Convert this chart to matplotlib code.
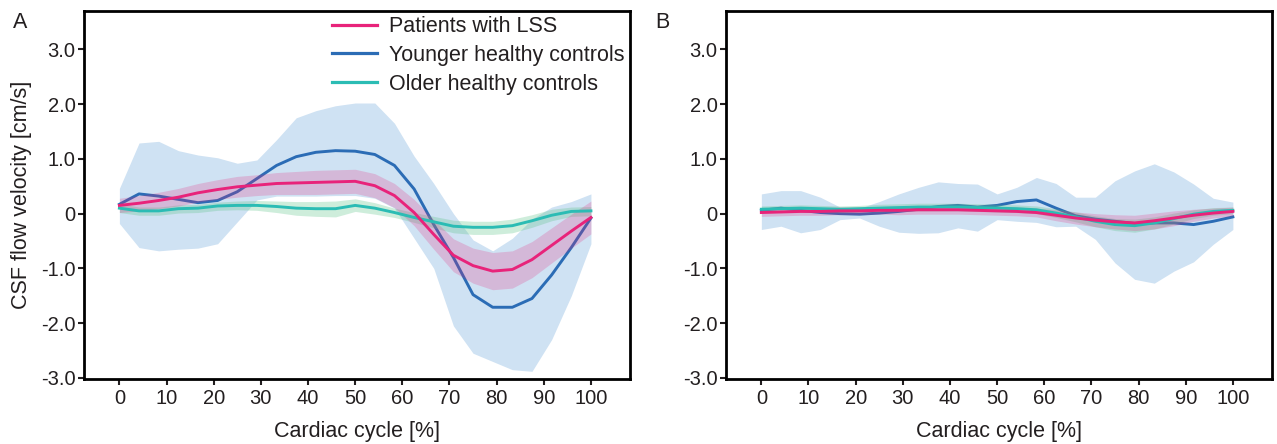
"""CSF flow velocity over the cardiac cycle, panels A and B."""

import matplotlib

matplotlib.use("Agg")
import matplotlib.pyplot as plt
from matplotlib.lines import Line2D

plt.rcParams["font.family"] = ["Liberation Sans", "DejaVu Sans"]

TEXT = "#231f20"
PINK = "#e8237a"
BLUE = "#2b6cb5"
TEAL = "#2bbcb4"
BLUE_FILL = "#cfe2f3"
GREEN_FILL = "#5fc48a"

# cardiac cycle sampled in 25 steps
cycle = [i * 100 / 24 for i in range(25)]

# panel A
lss_a = [0.15, 0.19, 0.24, 0.30, 0.38, 0.44, 0.49, 0.52, 0.55, 0.56, 0.57, 0.58, 0.59,
         0.51, 0.33, 0.02, -0.38, -0.76, -0.95, -1.05, -1.02, -0.84, -0.58, -0.32, -0.07]
lss_a_hi = [0.28, 0.33, 0.39, 0.46, 0.55, 0.62, 0.68, 0.71, 0.75, 0.77, 0.79, 0.80, 0.81,
            0.73, 0.55, 0.26, -0.11, -0.46, -0.63, -0.71, -0.68, -0.51, -0.26, -0.01, 0.23]
lss_a_lo = [0.02, 0.05, 0.09, 0.14, 0.21, 0.26, 0.30, 0.33, 0.35, 0.35, 0.35, 0.36, 0.37,
            0.29, 0.11, -0.22, -0.65, -1.06, -1.27, -1.39, -1.36, -1.17, -0.90, -0.63, -0.37]

young_a = [0.17, 0.36, 0.32, 0.26, 0.20, 0.24, 0.40, 0.64, 0.88, 1.04, 1.12, 1.15, 1.14,
           1.08, 0.88, 0.45, -0.20, -0.80, -1.48, -1.71, -1.71, -1.55, -1.12, -0.62, -0.08]
young_a_hi = [0.46, 1.29, 1.32, 1.15, 1.07, 1.02, 0.92, 0.98, 1.35, 1.75, 1.88, 1.97, 2.02,
              2.02, 1.65, 1.05, 0.55, 0.00, -0.48, -0.68, -0.45, -0.10, 0.12, 0.22, 0.36]
young_a_lo = [-0.18, -0.62, -0.68, -0.65, -0.63, -0.55, -0.15, 0.25, 0.32, 0.32, 0.32, 0.33, 0.33,
              0.28, 0.10, -0.45, -1.00, -2.05, -2.55, -2.70, -2.85, -2.88, -2.30, -1.50, -0.55]

old_a = [0.10, 0.05, 0.05, 0.09, 0.10, 0.14, 0.15, 0.15, 0.13, 0.10, 0.09, 0.09, 0.15,
         0.10, 0.02, -0.07, -0.15, -0.23, -0.25, -0.25, -0.22, -0.13, -0.03, 0.04, 0.05]
old_a_hi = [0.18, 0.12, 0.12, 0.16, 0.17, 0.21, 0.23, 0.24, 0.23, 0.22, 0.22, 0.23, 0.27,
            0.20, 0.10, 0.02, -0.05, -0.12, -0.14, -0.14, -0.10, -0.02, 0.08, 0.12, 0.13]
old_a_lo = [0.02, -0.03, -0.03, 0.01, 0.02, 0.06, 0.07, 0.06, 0.02, -0.03, -0.05, -0.06, 0.04,
            -0.01, -0.07, -0.16, -0.26, -0.35, -0.38, -0.38, -0.35, -0.25, -0.13, -0.05, -0.04]

# panel B
lss_b = [0.02, 0.03, 0.04, 0.04, 0.05, 0.05, 0.06, 0.06, 0.07, 0.07, 0.07, 0.06, 0.05,
         0.04, 0.02, -0.03, -0.08, -0.12, -0.15, -0.17, -0.13, -0.08, -0.03, 0.01, 0.04]
lss_b_hi = [0.09, 0.10, 0.11, 0.11, 0.12, 0.12, 0.13, 0.14, 0.15, 0.15, 0.15, 0.14, 0.13,
            0.12, 0.10, 0.07, 0.03, 0.00, -0.02, -0.03, 0.01, 0.05, 0.08, 0.10, 0.12]
lss_b_lo = [-0.05, -0.04, -0.03, -0.03, -0.02, -0.02, -0.01, -0.02, -0.01, -0.01, -0.01, -0.02, -0.03,
            -0.04, -0.06, -0.13, -0.19, -0.24, -0.28, -0.31, -0.28, -0.22, -0.14, -0.08, -0.04]

young_b = [0.06, 0.10, 0.06, 0.02, 0.00, -0.01, 0.01, 0.04, 0.08, 0.13, 0.15, 0.12, 0.15,
           0.22, 0.25, 0.10, -0.04, -0.10, -0.14, -0.18, -0.17, -0.17, -0.20, -0.14, -0.06]
young_b_hi = [0.36, 0.42, 0.42, 0.30, 0.12, 0.10, 0.22, 0.36, 0.48, 0.58, 0.55, 0.54, 0.36,
              0.48, 0.66, 0.55, 0.30, 0.30, 0.60, 0.78, 0.91, 0.76, 0.54, 0.28, 0.21]
young_b_lo = [-0.29, -0.23, -0.35, -0.29, -0.11, -0.08, -0.23, -0.34, -0.36, -0.35, -0.26, -0.32, -0.11,
              -0.14, -0.16, -0.24, -0.23, -0.47, -0.90, -1.20, -1.27, -1.05, -0.88, -0.56, -0.29]

old_b = [0.08, 0.09, 0.10, 0.09, 0.08, 0.09, 0.10, 0.11, 0.12, 0.12, 0.12, 0.11, 0.10,
         0.09, 0.07, 0.01, -0.06, -0.14, -0.20, -0.22, -0.17, -0.09, -0.01, 0.04, 0.06]
old_b_hi = [0.14, 0.15, 0.16, 0.15, 0.14, 0.15, 0.17, 0.18, 0.19, 0.19, 0.19, 0.18, 0.17,
            0.16, 0.14, 0.09, 0.03, -0.04, -0.09, -0.10, -0.06, 0.01, 0.07, 0.11, 0.12]
old_b_lo = [0.02, 0.03, 0.04, 0.03, 0.02, 0.03, 0.03, 0.04, 0.05, 0.05, 0.05, 0.04, 0.03,
            0.02, 0.00, -0.07, -0.15, -0.24, -0.31, -0.34, -0.28, -0.19, -0.09, -0.03, 0.00]

x_ticks = [0, 10, 20, 30, 40, 50, 60, 70, 80, 90, 100]
y_ticks = [-3, -2, -1, 0, 1, 2, 3]
y_tick_labels = ["-3.0", "-2.0", "-1.0", "0", "1.0", "2.0", "3.0"]
legend_labels = ["Patients with LSS", "Younger healthy controls", "Older healthy controls"]

TICK_SIZE = 14.5
LABEL_SIZE = 15.5


def draw_panel(ax, lss, lss_hi, lss_lo, young, young_hi, young_lo, old, old_hi, old_lo):
    ax.fill_between(cycle, young_lo, young_hi, color=BLUE_FILL, linewidth=0, zorder=1)
    ax.plot(cycle, young, color=BLUE, linewidth=2.1, zorder=2)
    ax.fill_between(cycle, old_lo, old_hi, color=GREEN_FILL, alpha=0.3, linewidth=0, zorder=3)
    ax.fill_between(cycle, lss_lo, lss_hi, color=PINK, alpha=0.22, linewidth=0, zorder=4)
    ax.plot(cycle, old, color=TEAL, linewidth=2.1, zorder=5)
    ax.plot(cycle, lss, color=PINK, linewidth=2.1, zorder=6)

    ax.set_xlim(-7.5, 108.3)
    ax.set_ylim(-3.02, 3.7)
    ax.set_xticks(x_ticks)
    ax.set_yticks(y_ticks)
    ax.set_yticklabels(y_tick_labels)
    ax.tick_params(axis="both", labelsize=TICK_SIZE, colors=TEXT, width=1.5, length=4.5)
    ax.tick_params(axis="y", pad=1.5)
    ax.tick_params(axis="x", pad=3)
    for spine in ax.spines.values():
        spine.set_linewidth(2.0)
        spine.set_color("black")
    ax.set_xlabel("Cardiac cycle [%]", fontsize=LABEL_SIZE, color=TEXT, labelpad=9)


fig = plt.figure(figsize=(12.77, 4.44), dpi=100)
ax_a = fig.add_axes([0.0658, 0.1464, 0.4276, 0.8288])
ax_b = fig.add_axes([0.5685, 0.1464, 0.4276, 0.8288])

draw_panel(ax_a, lss_a, lss_a_hi, lss_a_lo, young_a, young_a_hi, young_a_lo, old_a, old_a_hi, old_a_lo)
draw_panel(ax_b, lss_b, lss_b_hi, lss_b_lo, young_b, young_b_hi, young_b_lo, old_b, old_b_hi, old_b_lo)

ax_a.set_ylabel("CSF flow velocity [cm/s]", fontsize=LABEL_SIZE, color=TEXT)
ax_a.yaxis.set_label_coords(-0.095, 0.5)

handles = [Line2D([], [], color=c, linewidth=2.3) for c in (PINK, BLUE, TEAL)]
ax_a.legend(
    handles,
    legend_labels,
    loc="upper left",
    bbox_to_anchor=(0.45, 0.992),
    frameon=False,
    fontsize=LABEL_SIZE,
    handlelength=2.1,
    handletextpad=0.55,
    labelspacing=0.36,
    borderpad=0.1,
    borderaxespad=0,
    labelcolor=TEXT,
)

fig.text(20 / 1277, 1 - 23 / 444, "A", fontsize=LABEL_SIZE, color=TEXT, ha="center", va="center")
fig.text(662 / 1277, 1 - 23 / 444, "B", fontsize=LABEL_SIZE, color=TEXT, ha="center", va="center")

fig.savefig("out.png", dpi=100, facecolor="white")
